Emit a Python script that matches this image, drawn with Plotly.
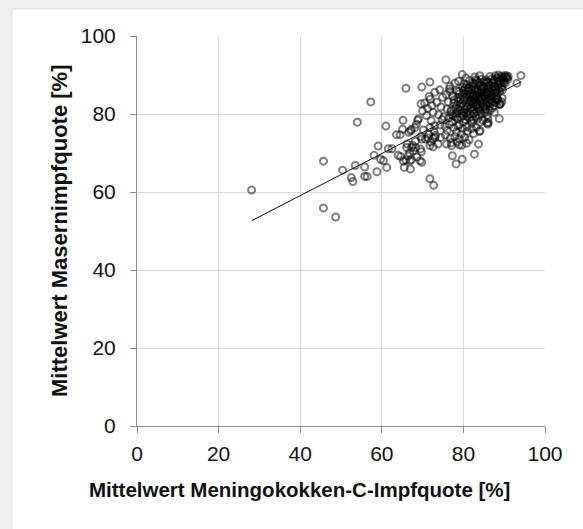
import plotly.graph_objects as go

# ---- data (x = Mittelwert Meningokokken-C-Impfquote, y = Mittelwert Masernimpfquote) ----
outer_points = [
    (28.1, 60.5), (45.7, 67.9), (45.7, 55.9), (48.7, 53.6), (50.4, 65.6),
    (52.5, 63.7), (52.9, 62.7), (53.5, 66.8), (54.0, 77.9), (55.8, 66.4),
    (55.8, 64.0), (56.4, 64.0), (57.3, 83.1), (58.1, 69.4), (59.1, 71.8),
    (58.8, 65.2), (59.7, 68.4), (60.4, 68.0), (61.0, 76.9), (61.2, 66.3),
    (61.6, 71.1), (62.5, 71.1), (63.6, 74.7), (64.5, 74.7), (64.0, 69.4),
    (64.6, 69.1), (65.1, 76.1), (65.2, 78.4), (65.9, 86.6), (65.3, 67.9),
    (66.9, 68.0), (65.5, 66.3), (67.0, 65.9), (66.1, 71.4), (67.3, 71.4),
    (68.3, 71.4), (67.1, 75.7), (68.1, 76.5), (68.5, 77.4), (68.8, 78.4),
    (69.7, 70.3), (69.4, 68.0), (69.8, 67.6), (69.8, 86.9), (69.6, 82.6),
    (71.8, 88.2), (71.6, 84.5), (71.8, 63.4), (72.7, 61.7), (75.7, 88.8),
    (77.3, 69.3), (78.2, 67.2), (79.7, 68.4), (79.7, 90.1), (83.0, 88.8),
    (83.7, 72.3), (82.7, 69.7), (83.9, 75.5), (86.0, 77.4), (88.8, 78.8),
    (94.1, 89.9), (93.1, 87.9), (89.0, 82.6), (89.8, 89.3), (90.6, 89.3),
]

middle_points = [
    (70.5, 82.8), (71.2, 81.5), (72.3, 82.2), (73.5, 83.0), (74.5, 81.8),
    (72.6, 80.4), (73.9, 79.8), (71.0, 79.6), (72.1, 78.3), (74.8, 78.6),
    (73.0, 77.0), (71.8, 76.5), (70.2, 75.9), (71.5, 74.8), (72.8, 75.6),
    (70.7, 73.6), (72.0, 72.8), (73.8, 72.3), (72.5, 73.7), (74.9, 84.3),
    (75.8, 85.0), (73.0, 85.6), (74.2, 86.2), (76.6, 86.4), (71.9, 83.8),
    (70.0, 80.8), (69.0, 78.8), (67.2, 76.0), (66.6, 75.3), (69.6, 74.2),
    (68.2, 73.0), (67.6, 72.0), (66.2, 72.3), (69.5, 71.0), (67.8, 70.6),
    (66.4, 69.2), (66.8, 70.0), (65.9, 68.2), (67.3, 68.3), (68.6, 69.0),
    (69.8, 73.6), (71.3, 73.9), (73.0, 74.0), (71.8, 71.9), (72.6, 71.6),
    (75.9, 72.3), (77.1, 71.9), (79.0, 72.1), (76.7, 85.8), (78.4, 85.9),
    (80.1, 87.8), (81.5, 88.6), (77.9, 87.9), (78.8, 88.4), (80.6, 89.2),
    (76.7, 87.1), (82.8, 89.5), (84.0, 89.8), (85.8, 77.7), (84.1, 75.7),
    (88.6, 89.2), (86.1, 77.8), (88.5, 83.4), (89.0, 82.5),
]

core_points = [
    (86.5, 89.6), (87.8, 89.8), (88.6, 90.0), (89.3, 89.7), (90.1, 89.9),
    (90.6, 89.8), (91.0, 89.6), (89.7, 89.2), (88.2, 89.3), (90.4, 89.3),
    (84.5, 88.9), (85.6, 88.7), (86.9, 89.0), (87.5, 88.4), (88.9, 88.7),
    (89.8, 88.6), (90.9, 88.9), (86.2, 88.1), (85.0, 88.2), (83.4, 88.5),
    (82.3, 88.0), (80.8, 87.5), (81.9, 87.2), (83.0, 87.6), (84.1, 87.3),
    (85.3, 87.8), (86.4, 87.4), (87.4, 87.1), (88.5, 87.6), (89.5, 87.2),
    (82.6, 86.8), (84.8, 86.6), (86.9, 86.5), (88.0, 86.3), (79.8, 86.9),
    (78.9, 85.8), (80.1, 86.1), (81.2, 85.9), (82.1, 86.3), (83.3, 85.7),
    (84.4, 86.0), (85.5, 85.6), (86.6, 85.9), (87.7, 85.4), (88.9, 85.8),
    (89.6, 86.2), (81.7, 85.2), (83.8, 85.1), (86.0, 84.9), (88.2, 84.7),
    (77.4, 84.6), (78.6, 84.2), (79.7, 84.8), (80.6, 84.3), (81.5, 84.6),
    (82.5, 84.1), (83.3, 84.5), (84.3, 84.2), (85.2, 84.6), (86.3, 84.0),
    (87.3, 84.3), (88.4, 83.8), (89.5, 84.1), (80.0, 83.6), (82.0, 83.4),
    (84.0, 83.5), (86.0, 83.3), (87.9, 83.0), (76.3, 83.1), (77.6, 82.8),
    (78.7, 83.2), (79.5, 82.6), (80.7, 82.9), (81.6, 82.5), (82.7, 82.9),
    (83.5, 82.4), (84.6, 82.8), (85.6, 82.3), (86.7, 82.6), (87.5, 82.1),
    (88.8, 82.4), (89.4, 83.1), (81.1, 82.0), (83.1, 81.8), (85.1, 81.7),
    (87.1, 81.5), (76.0, 81.3), (77.0, 81.0), (78.1, 81.5), (79.1, 80.9),
    (80.2, 81.2), (81.2, 80.7), (82.3, 81.1), (83.3, 80.6), (84.2, 81.0),
    (85.3, 80.5), (86.5, 80.9), (87.6, 80.4), (79.6, 80.2), (81.7, 80.0),
    (83.8, 79.9), (85.8, 79.7), (78.2, 80.1), (75.2, 79.3), (76.4, 79.0),
    (77.5, 79.5), (78.5, 78.8), (79.4, 79.1), (80.5, 78.6), (81.5, 79.0),
    (82.4, 78.5), (83.6, 78.9), (84.8, 78.4), (86.0, 78.8), (80.0, 77.9),
    (82.0, 77.6), (84.0, 77.8), (77.2, 78.0), (79.0, 77.3), (74.3, 77.2),
    (75.5, 76.8), (76.6, 77.3), (77.6, 76.5), (78.7, 76.9), (79.8, 76.3),
    (80.9, 76.7), (82.0, 76.2), (83.2, 76.6), (81.0, 75.6), (78.3, 75.4),
    (76.0, 75.8), (79.5, 74.9), (82.5, 75.0), (73.2, 74.5), (74.4, 74.0),
    (75.6, 74.6), (76.8, 73.8), (77.9, 74.2), (79.0, 73.6), (80.3, 74.0),
    (81.4, 73.4), (78.5, 72.8), (80.8, 72.5), (77.0, 72.6), (79.6, 72.0),
    (82.2, 85.3), (83.6, 86.2), (84.9, 85.4), (85.9, 86.4), (84.6, 83.9),
    (83.0, 83.0), (81.9, 84.0), (80.9, 85.0), (85.8, 85.1), (87.0, 85.0),
    (86.6, 83.6), (84.9, 81.9), (83.7, 81.3), (82.6, 80.2), (81.0, 79.4),
    (80.0, 80.5), (79.2, 81.9), (78.3, 82.3), (77.2, 79.9), (76.9, 80.6),
    (87.8, 86.9), (88.7, 88.2), (89.2, 86.8), (90.2, 87.9), (87.2, 87.9),
]

dense_core_points = [
    (80.4, 83.9), (80.9, 81.8), (81.4, 83.2), (81.8, 81.4), (82.2, 82.6),
    (82.8, 83.7), (83.2, 82.1), (83.7, 83.9), (84.1, 82.3), (84.5, 84.8),
    (84.9, 83.3), (85.4, 84.0), (85.7, 82.8), (86.2, 85.3), (86.8, 84.6),
    (87.2, 86.2), (87.7, 84.1), (88.1, 85.6), (88.6, 86.7), (89.1, 87.9),
    (85.0, 87.0), (84.2, 85.6), (83.0, 84.9), (82.4, 84.7), (81.3, 86.6),
    (80.2, 85.4), (79.3, 83.8), (78.9, 81.4), (79.9, 79.6), (80.7, 80.1),
    (81.9, 78.3), (83.0, 79.4), (84.4, 80.0), (85.5, 81.1), (86.3, 81.9),
    (87.0, 83.2), (88.1, 84.0), (86.1, 87.0), (87.6, 88.8), (89.9, 88.1),
    (78.1, 79.2), (77.7, 83.6), (79.0, 85.1), (80.5, 86.7), (82.9, 86.1),
    (84.7, 86.8), (85.7, 88.3), (83.8, 87.9), (82.6, 87.7), (81.1, 86.4),
]

trend_x = [28.2, 94.2]
trend_y = [52.7, 88.3]

x_ticks = [0, 20, 40, 60, 80, 100]
y_ticks = [0, 20, 40, 60, 80, 100]

x_title = "Mittelwert Meningokokken-C-Impfquote [%]"
y_title = "Mittelwert Masernimpfquote [%]"

all_points = outer_points + middle_points + core_points + dense_core_points
mcc_rate = [p[0] for p in all_points]
measles_rate = [p[1] for p in all_points]

FONT = "Liberation Sans, Arial, sans-serif"

fig = go.Figure()
fig.add_trace(go.Scatter(
    x=mcc_rate, y=measles_rate, mode="markers",
    marker=dict(symbol="circle-open", size=7, color="rgba(0,0,0,0.5)",
                line=dict(width=2)),
    hoverinfo="x+y", showlegend=False,
))
fig.add_trace(go.Scatter(
    x=trend_x, y=trend_y, mode="lines",
    line=dict(color="#111111", width=1), showlegend=False,
))

axis_common = dict(
    range=[0, 100], showgrid=True, gridcolor="#d9d9d9", gridwidth=1,
    zeroline=False, showline=True, linecolor="#8c8c8c", linewidth=1,
    ticks="outside", ticklen=6, tickcolor="#8c8c8c", automargin=False,
    tickfont=dict(family=FONT, size=21, color="#111111"),
)

fig.update_xaxes(tickvals=x_ticks, ticklabelstandoff=3, **axis_common)
fig.update_yaxes(tickvals=y_ticks, ticklabelstandoff=10, **axis_common)

L, R, T, B = 137, 38, 36, 103
W, H = 583, 529
pw, ph = W - L - R, H - T - B

def px_x(p):
    return (p - L) / pw

def px_y(p):
    return (H - B - p) / ph

fig.add_shape(type="rect", xref="paper", yref="paper",
              x0=px_x(12), x1=px_x(590), y0=px_y(535), y1=px_y(9),
              fillcolor="white", line=dict(color="#e2e2e2", width=1), layer="below")

fig.add_annotation(text=x_title, xref="paper", yref="paper",
                   x=px_x(299), y=px_y(489), xanchor="center", yanchor="middle",
                   showarrow=False,
                   font=dict(family=FONT, size=20.5, color="#111111", weight="bold"))
fig.add_annotation(text=y_title, xref="paper", yref="paper",
                   x=px_x(59), y=px_y(231), xanchor="center", yanchor="middle",
                   showarrow=False, textangle=-90,
                   font=dict(family=FONT, size=22, color="#111111", weight="bold"))

fig.update_layout(
    width=W, height=H,
    margin=dict(l=L, r=R, t=T, b=B, pad=0),
    paper_bgcolor="#eeeeee", plot_bgcolor="white",
    showlegend=False,
)

fig.write_html(
    "out.html",
    config={"displayModeBar": False},
    post_script="document.body.style.margin='0';document.body.style.overflow='hidden';",
)
